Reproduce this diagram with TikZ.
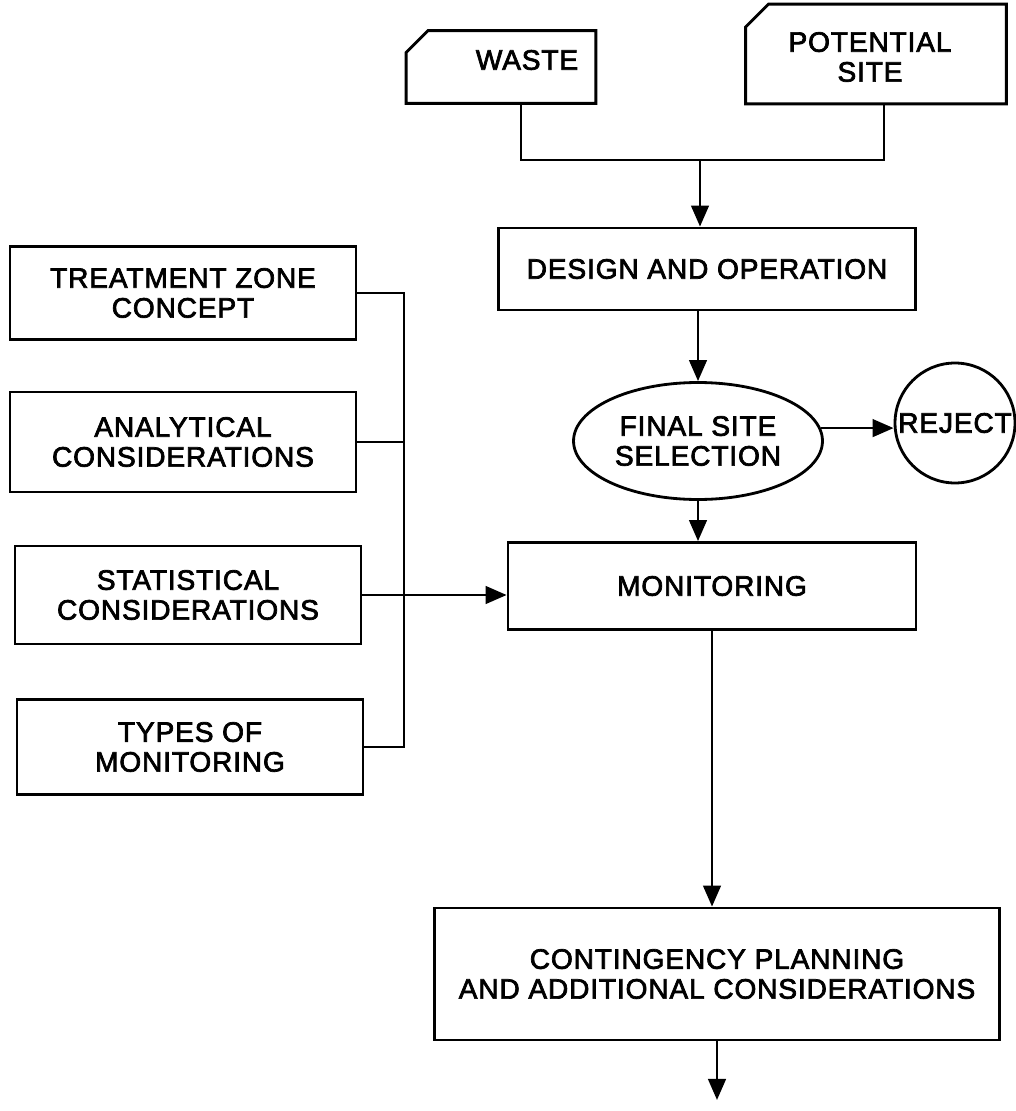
\documentclass[tikz,border=0pt]{standalone}
\usepackage{fontspec}
\setmainfont{Liberation Sans}[LetterSpace=3,FakeBold=2.5]
\usetikzlibrary{shapes,arrows.meta,positioning}

\begin{document}
\begin{tikzpicture}[x=0.02cm,y=-0.02cm,line width=1.6pt,
  every node/.style={font=\fontsize{16}{17}\selectfont,align=center},
  box/.style={rectangle,draw,inner sep=0pt},
  card/.style={rectangle,inner sep=0pt},
  >={Triangle[length=12pt,width=10pt]}]
\useasboundingbox(0,0)rectangle(1015,1111);
% inputs
\node[card,minimum width=3.74cm,minimum height=1.4cm](waste) at (501,67){};
\node[card,minimum width=5.16cm,minimum height=1.94cm](site) at (876,54){};
\node(wastetext) at (527,60){WASTE};
\node(sitetext) at (870,57){POTENTIAL\\SITE};
\draw(waste.south west)--(waste.south east)--(waste.north east)--([xshift=0.44cm]waste.north west)--([yshift=-0.44cm]waste.north west)--cycle;
\draw(site.south west)--(site.south east)--(site.north east)--([xshift=0.46cm]site.north west)--([yshift=-0.46cm]site.north west)--cycle;
% main line
\node[box,minimum width=8.34cm,minimum height=1.64cm](design) at (707,269){DESIGN AND OPERATION};
\node[ellipse,draw,minimum width=4.98cm,minimum height=2.34cm,inner sep=0pt](final) at (698,441){FINAL SITE\\SELECTION};
\node[circle,draw,minimum size=2.4cm,inner sep=0pt](reject) at (955,423){REJECT};
\node[box,minimum width=8.16cm,minimum height=1.74cm](monitor) at (712,586){MONITORING};
\node[box,minimum width=11.3cm,minimum height=2.64cm](plan) at (717,974){CONTINGENCY PLANNING\\AND ADDITIONAL CONSIDERATIONS};
% left column
\node[box,minimum width=6.92cm,minimum height=1.86cm](zone) at (183,293){TREATMENT ZONE\\CONCEPT};
\node[box,minimum width=6.92cm,minimum height=2cm](analytic) at (183,442){ANALYTICAL\\CONSIDERATIONS};
\node[box,minimum width=6.92cm,minimum height=1.96cm](stat) at (188,595){STATISTICAL\\CONSIDERATIONS};
\node[box,minimum width=6.92cm,minimum height=1.9cm](types) at (190,747){TYPES OF\\MONITORING};
% connectors
\coordinate(join) at (700,160);
\coordinate(bus) at (404,293);
\coordinate(out) at (708,1100);
\draw([xshift=0.4cm]waste.south)|-(join)-|([xshift=0.16cm]site.south);
\draw[->](join)--(join|-design.north);
\draw[->](design.south-|final.north)--(final.north);
\draw[->](final.6)--(final.6-|reject.west);
\draw[->](final.south)--(final.south|-monitor.north);
\draw[->](monitor.south)--(monitor.south|-plan.north);
\draw[->](plan.south)--(plan.south|-out);
\draw(zone.east)--(zone.east-|bus)--(types.east-|bus)--(types.east);
\draw(analytic.east)--(analytic.east-|bus);
\draw[->](stat.east)--(monitor.west|-stat.east);
\end{tikzpicture}
\end{document}
